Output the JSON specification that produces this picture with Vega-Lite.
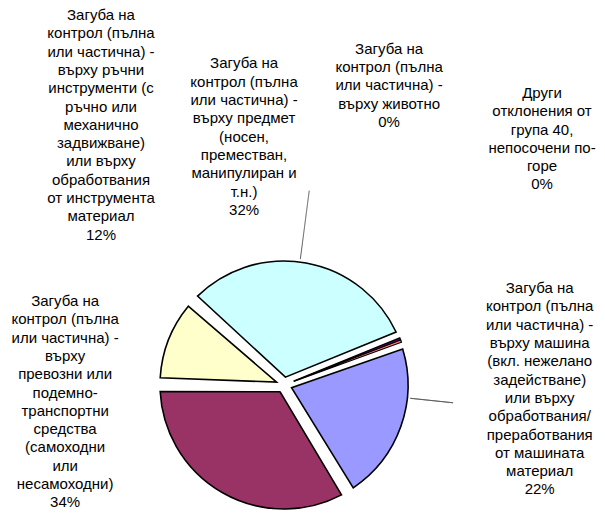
{
  "$schema": "https://vega.github.io/schema/vega-lite/v6.json",
  "autosize": {"type": "none"},
  "width": 568,
  "height": 256,
  "padding": {"left": 0, "top": 257, "right": 37, "bottom": 0},
  "background": "white",
  "config": {"view": {"stroke": null}, "text": {"font": "Liberation Sans"}},
  "data": {
    "values": [
      {"n": 1, "cat": "машина", "value": 22.0, "label": "Загуба на\nконтрол (пълна\nили частична) -\nвърху машина\n(вкл. нежелано\nзадействане)\nили върху\nобработвания/\nпреработвания\nот машината\nматериал\n22%"},
      {"n": 2, "cat": "превозни", "value": 33.6, "label": "Загуба на\nконтрол (пълна\nили частична) -\nвърху\nпревозни или\nподемно-\nтранспортни\nсредства\n(самоходни\nили\nнесамоходни)\n34%"},
      {"n": 3, "cat": "ръчни инструменти", "value": 11.8, "label": "Загуба на\nконтрол (пълна\nили частична) -\nвърху ръчни\nинструменти (с\nръчно или\nмеханично\nзадвижване)\nили върху\nобработвания\nот инструмента\nматериал\n12%"},
      {"n": 4, "cat": "предмет", "value": 32.0, "label": "Загуба на\nконтрол (пълна\nили частична) -\nвърху предмет\n(носен,\nпреместван,\nманипулиран и\nт.н.)\n32%"},
      {"n": 5, "cat": "животно", "value": 0.3, "label": "Загуба на\nконтрол (пълна\nили частична) -\nвърху животно\n0%"},
      {"n": 6, "cat": "други", "value": 0.3, "label": "Други\nотклонения от\nгрупа 40,\nнепосочени по-\nгоре\n0%"}
    ]
  },
  "encoding": {
    "theta": {"field": "value", "type": "quantitative", "stack": true, "scale": {"range": [1.22173, 7.50492]}},
    "order": {"field": "n", "type": "quantitative"}
  },
  "layer": [
    {
      "mark": {"type": "arc", "outerRadius": 124, "innerRadius": 8, "padAngle": 0.11, "stroke": "black", "strokeWidth": 1.6},
      "encoding": {
        "color": {"field": "cat", "type": "nominal", "legend": null,
          "scale": {"domain": ["машина", "превозни", "ръчни инструменти", "предмет", "животно", "други"],
                    "range": ["#9999FF", "#993366", "#FFFFCC", "#CCFFFF", "#660066", "#FF8080"]}},
        "opacity": {"condition": {"test": "datum.value < 1", "value": 0}, "value": 1}
      }
    },
    {
      "mark": {"type": "arc", "outerRadius": 125, "innerRadius": 11, "stroke": "black", "strokeWidth": 1.2},
      "encoding": {
        "color": {"field": "cat", "type": "nominal", "legend": null},
        "opacity": {"condition": {"test": "datum.value < 1", "value": 1}, "value": 0}
      }
    },
    {
      "mark": {"type": "arc", "innerRadius": 127, "outerRadius": 196, "padAngle": 3, "thetaOffset": -0.0496, "fill": null, "stroke": "#555", "strokeWidth": 1, "strokeDash": [1, 1]},
      "encoding": {
        "opacity": {"condition": {"test": "datum.n === 4", "value": 1}, "value": 0}
      }
    },
    {
      "mark": {"type": "arc", "innerRadius": 127, "outerRadius": 170, "padAngle": 3, "thetaOffset": -0.2373, "fill": null, "stroke": "#555", "strokeWidth": 0.8},
      "encoding": {
        "opacity": {"condition": {"test": "datum.n === 1", "value": 1}, "value": 0}
      }
    },
    {
      "mark": {"type": "text", "radius": 276, "thetaOffset": -0.728, "lineBreak": "\n", "fontSize": 15, "lineHeight": 18.3, "baseline": "top", "align": "center", "color": "black"},
      "encoding": {"text": {"condition": {"test": "datum.n === 1", "field": "label", "type": "nominal"}, "value": ""}}
    },
    {
      "mark": {"type": "text", "radius": 237, "thetaOffset": 1.4465, "lineBreak": "\n", "fontSize": 15, "lineHeight": 18.3, "baseline": "top", "align": "center", "color": "black"},
      "encoding": {"text": {"condition": {"test": "datum.n === 2", "field": "label", "type": "nominal"}, "value": ""}}
    },
    {
      "mark": {"type": "text", "radius": 419, "thetaOffset": 0.7453, "lineBreak": "\n", "fontSize": 15, "lineHeight": 18.3, "baseline": "top", "align": "center", "color": "black"},
      "encoding": {"text": {"condition": {"test": "datum.n === 3", "field": "label", "type": "nominal"}, "value": ""}}
    },
    {
      "mark": {"type": "text", "radius": 331, "thetaOffset": -0.2997, "lineBreak": "\n", "fontSize": 15, "lineHeight": 18.3, "baseline": "top", "align": "center", "color": "black"},
      "encoding": {"text": {"condition": {"test": "datum.n === 4", "field": "label", "type": "nominal"}, "value": ""}}
    },
    {
      "mark": {"type": "text", "radius": 359, "thetaOffset": -0.8964, "lineBreak": "\n", "fontSize": 15, "lineHeight": 18.3, "baseline": "top", "align": "center", "color": "black"},
      "encoding": {"text": {"condition": {"test": "datum.n === 5", "field": "label", "type": "nominal"}, "value": ""}}
    },
    {
      "mark": {"type": "text", "radius": 395, "thetaOffset": -0.5004, "lineBreak": "\n", "fontSize": 15, "lineHeight": 18.3, "baseline": "top", "align": "center", "color": "black"},
      "encoding": {"text": {"condition": {"test": "datum.n === 6", "field": "label", "type": "nominal"}, "value": ""}}
    }
  ]
}
